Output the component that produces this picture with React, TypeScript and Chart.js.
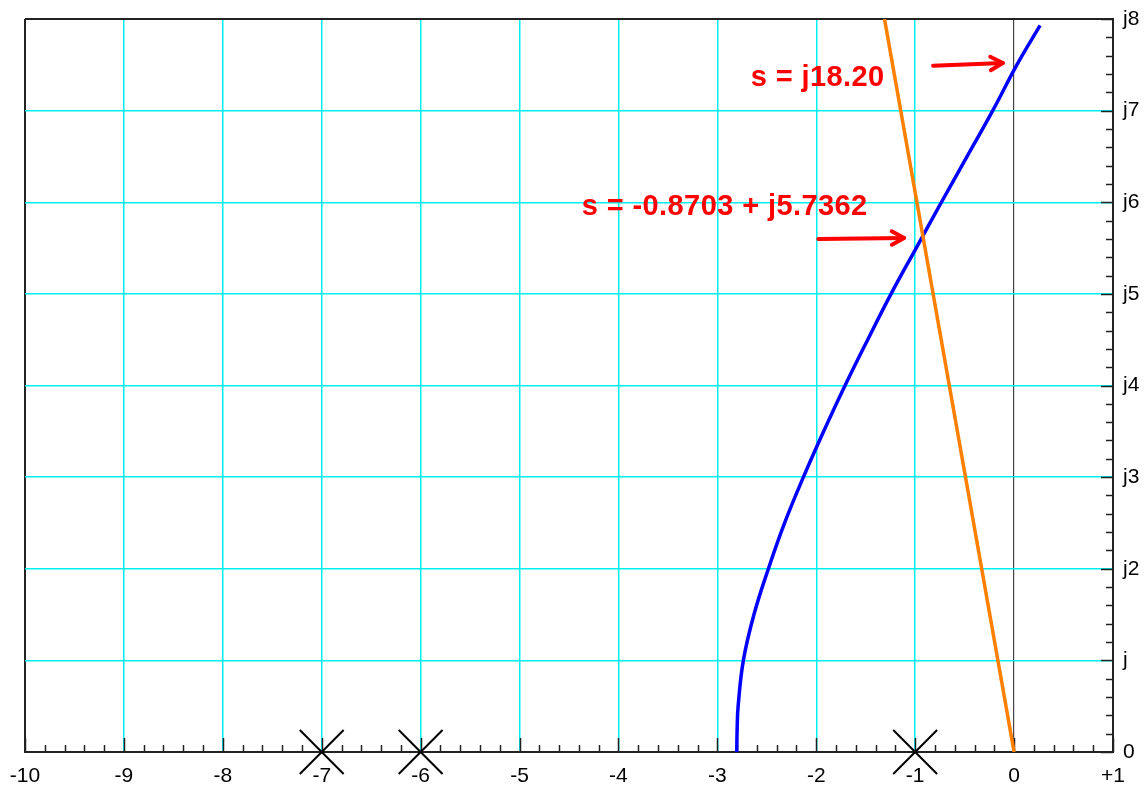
import React, { useEffect, useRef } from "react";
import { Chart, registerables } from "chart.js";

Chart.register(...registerables);

// Root locus branch (real part, imaginary part)
const locusRe = [-2.804, -2.8, -2.79, -2.737, -2.63, -2.484, -2.32, -2.13, -1.925, -1.709, -1.48, -1.244, -0.99, -0.735, -0.475, -0.216, 0.028, 0.263];
const locusIm = [0, 0.25, 0.5, 1.0, 1.5, 2.0, 2.5, 3.0, 3.5, 4.0, 4.5, 5.0, 5.5, 6.0, 6.5, 7.0, 7.5, 7.93];

// Constant damping ratio line
const zetaRe = [0, -1.31];
const zetaIm = [0, 8];

// Open-loop poles
const poleRe = [-7, -6, -1];
const poleIm = [0, 0, 0];

// Axis ranges / tick labels
const xMin = -10;
const xMax = 1;
const yMin = 0;
const yMax = 8;
const minorStep = 0.2;
const xTickLabel = (v: number) => (v === 1 ? "+1" : String(v));
const yTickLabel = (v: number) => (v === 0 ? "0" : v === 1 ? "j" : "j" + v);

// Annotations
const noteTexts = ["s = j18.20", "s = -0.8703 + j5.7362"];
const noteRe = [-2.662, -4.371];
const noteIm = [7.27, 5.862];

const arrowFromRe = [-0.819, -1.979];
const arrowFromIm = [7.49, 5.6];
const arrowToRe = [-0.114, -1.112];
const arrowToIm = [7.52, 5.611];

const CYAN = "#00f0f0";
const DARK = "#222222";
const RED = "#ff0000";
const FONT = "'Liberation Sans', Arial, Helvetica, sans-serif";

const overlayPlugin = {
  id: "overlay",
  beforeDatasetsDraw(chart: any) {
    const { ctx, scales } = chart;
    const x = scales.x;
    const y = scales.y;
    ctx.save();
    ctx.strokeStyle = DARK;
    ctx.lineWidth = 1.5;
    const bottom = y.getPixelForValue(yMin);
    const right = x.getPixelForValue(xMax);
    const nx = Math.round((xMax - xMin) / minorStep);
    for (let i = 0; i <= nx; i++) {
      const v = xMin + i * minorStep;
      const px = Math.round(x.getPixelForValue(v)) + 0.5;
      const len = i % 5 === 0 ? 14 : 7;
      ctx.beginPath();
      ctx.moveTo(px, bottom);
      ctx.lineTo(px, bottom - len);
      ctx.stroke();
    }
    const ny = Math.round((yMax - yMin) / minorStep);
    for (let i = 0; i <= ny; i++) {
      const v = yMin + i * minorStep;
      const py = Math.round(y.getPixelForValue(v)) + 0.5;
      const len = i % 5 === 0 ? 12 : 7;
      ctx.beginPath();
      ctx.moveTo(right, py);
      ctx.lineTo(right - len, py);
      ctx.stroke();
    }
    ctx.restore();
  },
  afterDraw(chart: any) {
    const { ctx, scales } = chart;
    const x = scales.x;
    const y = scales.y;
    ctx.save();
    ctx.fillStyle = RED;
    ctx.font = `bold 29px ${FONT}`;
    try {
      (ctx as any).letterSpacing = "0.4px";
    } catch (e) {}
    ctx.textBaseline = "alphabetic";
    ctx.textAlign = "left";
    noteTexts.forEach((t, i) => {
      ctx.fillText(t, x.getPixelForValue(noteRe[i]), y.getPixelForValue(noteIm[i]));
    });
    try {
      (ctx as any).letterSpacing = "0px";
    } catch (e) {}
    ctx.strokeStyle = RED;
    ctx.lineWidth = 4;
    ctx.lineCap = "round";
    ctx.lineJoin = "round";
    arrowFromRe.forEach((_, i) => {
      const x0 = x.getPixelForValue(arrowFromRe[i]);
      const y0 = y.getPixelForValue(arrowFromIm[i]);
      const x1 = x.getPixelForValue(arrowToRe[i]);
      const y1 = y.getPixelForValue(arrowToIm[i]);
      const a = Math.atan2(y1 - y0, x1 - x0);
      const hl = 14;
      const ha = 0.5;
      ctx.beginPath();
      ctx.moveTo(x0, y0);
      ctx.lineTo(x1, y1);
      ctx.stroke();
      ctx.beginPath();
      ctx.moveTo(x1 - hl * Math.cos(a - ha), y1 - hl * Math.sin(a - ha));
      ctx.lineTo(x1, y1);
      ctx.lineTo(x1 - hl * Math.cos(a + ha), y1 - hl * Math.sin(a + ha));
      ctx.stroke();
    });
    ctx.restore();
  },
};

export default function App() {
  const canvasRef = useRef<HTMLCanvasElement | null>(null);

  useEffect(() => {
    const canvas = canvasRef.current;
    if (!canvas) return;
    const chart = new Chart(canvas, {
      type: "scatter",
      data: {
        datasets: [
          {
            label: "poles",
            data: poleRe.map((r, i) => ({ x: r, y: poleIm[i] })),
            showLine: false,
            pointStyle: "crossRot",
            pointRadius: 31,
            pointHoverRadius: 31,
            borderColor: "#000000",
            backgroundColor: "#000000",
            pointBorderWidth: 2,
            borderWidth: 2,
            clip: false,
          } as any,
          {
            label: "zeta",
            data: zetaRe.map((r, i) => ({ x: r, y: zetaIm[i] })),
            showLine: true,
            borderColor: "#ff8000",
            borderWidth: 3.5,
            pointRadius: 0,
            pointHoverRadius: 0,
          },
          {
            label: "locus",
            data: locusRe.map((r, i) => ({ x: r, y: locusIm[i] })),
            showLine: true,
            borderColor: "#0000ff",
            borderWidth: 3.5,
            pointRadius: 0,
            pointHoverRadius: 0,
            tension: 0.4,
          } as any,
        ],
      },
      options: {
        animation: false,
        responsive: false,
        events: [],
        layout: { autoPadding: false, padding: { top: 19, left: 25, right: 0, bottom: 0 } },
        plugins: {
          legend: { display: false },
          tooltip: { enabled: false },
        },
        scales: {
          x: {
            type: "linear",
            position: "bottom",
            min: xMin,
            max: xMax,
            afterFit: (s: any) => {
              s.height = 37;
              s.paddingLeft = 0;
              s.paddingRight = 0;
            },
            ticks: {
              stepSize: 1,
              padding: 12,
              color: "#000000",
              font: { family: FONT, size: 21 },
              maxRotation: 0,
              autoSkip: false,
              callback: (v: any) => xTickLabel(Number(v)),
            },
            grid: {
              drawTicks: false,
              color: (c: any) => {
                const v = c.tick ? c.tick.value : NaN;
                if (v === xMin) return DARK;
                if (v === 0) return "#444444";
                return CYAN;
              },
              lineWidth: (c: any) => {
                const v = c.tick ? c.tick.value : NaN;
                if (v === xMin) return 2;
                if (v === 0) return 1.2;
                return 1.5;
              },
            },
            border: { display: true, color: DARK, width: 2 },
          },
          y: {
            type: "linear",
            position: "right",
            min: yMin,
            max: yMax,
            afterFit: (s: any) => {
              s.width = 33;
              s.paddingTop = 0;
              s.paddingBottom = 0;
            },
            ticks: {
              stepSize: 1,
              padding: 10,
              color: "#000000",
              font: { family: FONT, size: 21 },
              autoSkip: false,
              callback: (v: any) => yTickLabel(Number(v)),
            },
            grid: {
              drawTicks: false,
              color: (c: any) => {
                const v = c.tick ? c.tick.value : NaN;
                if (v === yMax) return DARK;
                return CYAN;
              },
              lineWidth: (c: any) => {
                const v = c.tick ? c.tick.value : NaN;
                if (v === yMax) return 2;
                return 1.5;
              },
            },
            border: { display: true, color: DARK, width: 2 },
          },
        },
      },
      plugins: [overlayPlugin],
    } as any);
    return () => chart.destroy();
  }, []);

  return (
    <div style={{ position: "absolute", left: 0, top: 0, width: 1146, height: 789, background: "#ffffff" }}>
      <canvas ref={canvasRef} width={1146} height={789} style={{ display: "block", width: 1146, height: 789 }} />
    </div>
  );
}
